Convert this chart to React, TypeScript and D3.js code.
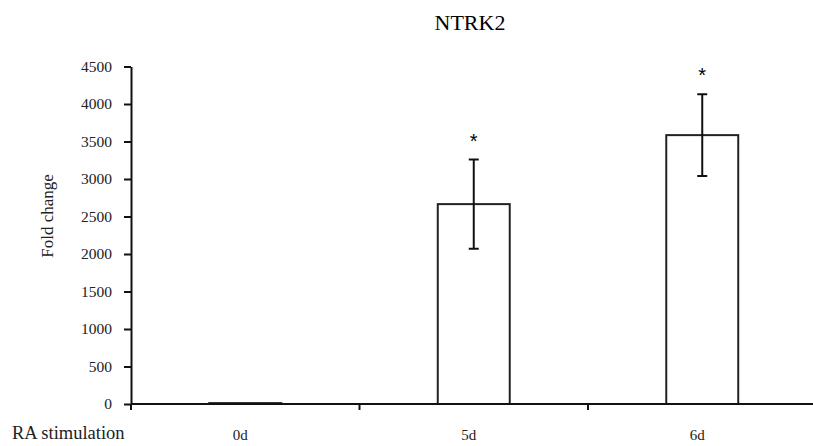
import React, { useEffect, useRef } from "react";
import * as d3 from "d3";

const categories = ["0d", "5d", "6d"];
const means = [12, 2665, 3585];
const errors = [0, 595, 545];
const significant = [false, true, true];
const yTicks = [0, 500, 1000, 1500, 2000, 2500, 3000, 3500, 4000, 4500];

const App = () => {
  const ref = useRef<SVGSVGElement>(null);

  useEffect(() => {
    const svg = d3.select(ref.current);
    svg.selectAll("*").remove();

    const left = 131;
    const top = 66.5;
    const bottom = 404;
    const step = 228.5;
    const font = "'Liberation Serif', 'Times New Roman', serif";

    const x = d3
      .scaleBand()
      .domain(categories)
      .range([left, left + step * categories.length])
      .paddingInner(0.685)
      .paddingOuter(0.685 / 2);

    const y = d3.scaleLinear().domain([0, 4500]).range([bottom, top]);

    // title
    svg
      .append("text")
      .attr("x", 470)
      .attr("y", 30)
      .attr("text-anchor", "middle")
      .attr("font-family", font)
      .attr("font-size", 22)
      .text("NTRK2");

    // y axis
    const yAxis = svg
      .append("g")
      .attr("transform", `translate(${left},0)`)
      .call(
        d3
          .axisLeft(y)
          .tickValues(yTicks)
          .tickFormat(d3.format("d"))
          .tickSize(7)
          .tickPadding(12)
          .tickSizeOuter(0)
      );
    yAxis.select(".domain").attr("stroke", "#111").attr("stroke-width", 2);
    yAxis.selectAll(".tick line").attr("stroke", "#111").attr("stroke-width", 2);
    yAxis
      .selectAll(".tick text")
      .attr("font-family", font)
      .attr("font-size", 15.5)
      .attr("fill", "#222");

    // bars
    const data = categories.map((c, i) => ({ c, m: means[i], e: errors[i], s: significant[i] }));
    svg
      .selectAll(".bar")
      .data(data)
      .enter()
      .append("rect")
      .attr("class", "bar")
      .attr("x", (d) => x(d.c)!)
      .attr("y", (d) => y(d.m))
      .attr("width", x.bandwidth())
      .attr("height", (d) => Math.max(bottom - y(d.m), 0))
      .attr("fill", "white")
      .attr("stroke", "#222")
      .attr("stroke-width", 2);

    // x axis
    const xEnd = left + step * categories.length;
    svg
      .append("line")
      .attr("x1", left)
      .attr("x2", xEnd)
      .attr("y1", bottom)
      .attr("y2", bottom)
      .attr("stroke", "#111")
      .attr("stroke-width", 2);
    svg
      .selectAll(".xtick")
      .data(d3.range(categories.length + 1))
      .enter()
      .append("line")
      .attr("x1", (i) => left + i * step)
      .attr("x2", (i) => left + i * step)
      .attr("y1", bottom)
      .attr("y2", bottom + 6)
      .attr("stroke", "#111")
      .attr("stroke-width", 2);

    svg
      .selectAll(".xlabel")
      .data(categories)
      .enter()
      .append("text")
      .attr("x", (c) => x(c)! + x.bandwidth() / 2 - 5)
      .attr("y", 440)
      .attr("text-anchor", "middle")
      .attr("font-family", font)
      .attr("font-size", 15)
      .attr("fill", "#222")
      .text((c) => c);

    svg
      .append("text")
      .attr("x", 12)
      .attr("y", 439)
      .attr("font-family", font)
      .attr("font-size", 18.5)
      .attr("fill", "#222")
      .text("RA stimulation");

    svg
      .append("text")
      .attr("transform", `translate(53,216) rotate(-90)`)
      .attr("text-anchor", "middle")
      .attr("font-family", font)
      .attr("font-size", 17)
      .attr("fill", "#222")
      .text("Fold change");

    // error bars
    const eb = svg
      .selectAll(".err")
      .data(data.filter((d) => d.e > 0))
      .enter()
      .append("g")
      .attr("stroke", "#111")
      .attr("stroke-width", 2);
    const cx = (d: any) => x(d.c)! + x.bandwidth() / 2;
    eb.append("line")
      .attr("x1", cx)
      .attr("x2", cx)
      .attr("y1", (d) => y(d.m + d.e))
      .attr("y2", (d) => y(d.m - d.e));
    eb.append("line")
      .attr("x1", (d) => cx(d) - 5)
      .attr("x2", (d) => cx(d) + 5)
      .attr("y1", (d) => y(d.m + d.e))
      .attr("y2", (d) => y(d.m + d.e));
    eb.append("line")
      .attr("x1", (d) => cx(d) - 5)
      .attr("x2", (d) => cx(d) + 5)
      .attr("y1", (d) => y(d.m - d.e))
      .attr("y2", (d) => y(d.m - d.e));

    svg
      .selectAll(".star")
      .data(data.filter((d) => d.s))
      .enter()
      .append("text")
      .attr("x", cx)
      .attr("y", (d) => y(d.m + d.e) - 12)
      .attr("text-anchor", "middle")
      .attr("font-family", "'Liberation Sans', Arial, sans-serif")
      .attr("font-size", 20)
      .text("*");
  }, []);

  return (
    <svg
      ref={ref}
      width={813}
      height={446}
      style={{ position: "absolute", left: 0, top: 0, background: "white" }}
    />
  );
};

export default App;
